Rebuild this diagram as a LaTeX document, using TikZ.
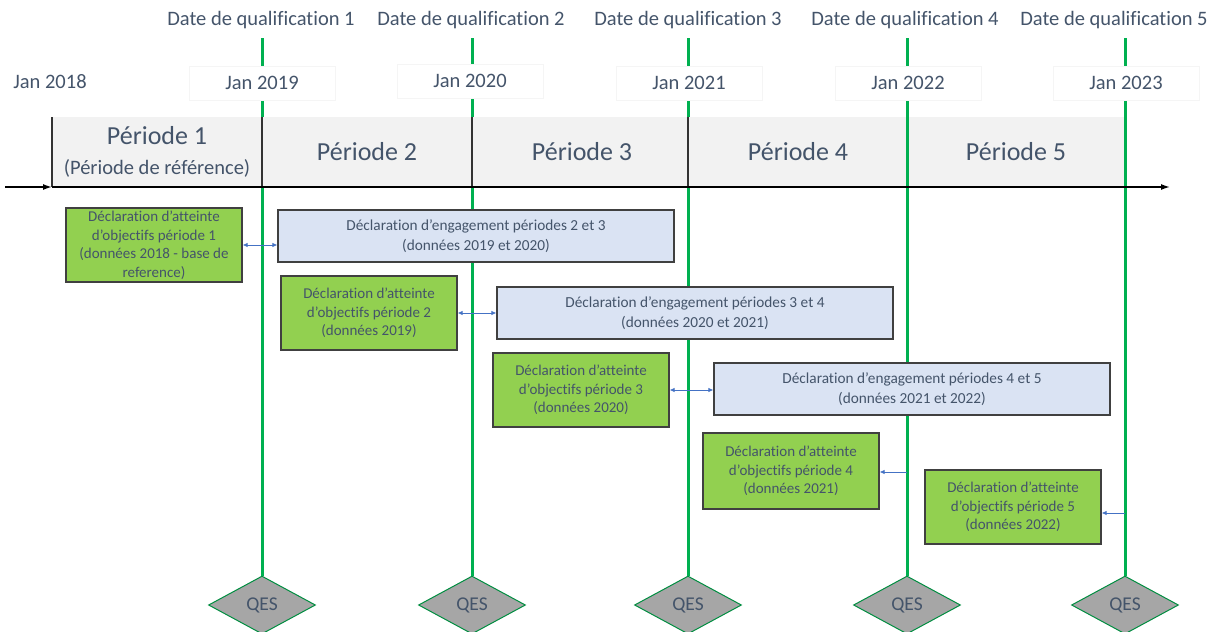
\documentclass[tikz,border=0pt]{standalone}
\usepackage{fontspec}
\setmainfont{Carlito}[Ligatures={TeX,NoCommon}]
\usepackage{xcolor}
\usepackage{tikz}
\usetikzlibrary{shapes.geometric,arrows.meta,positioning,calc}

\definecolor{txtgray}{RGB}{68,84,106}
\definecolor{qgreen}{RGB}{0,176,80}
\definecolor{boxgreen}{RGB}{146,208,80}
\definecolor{boxblue}{RGB}{218,227,243}
\definecolor{bandgray}{RGB}{242,242,242}
\definecolor{arrblue}{RGB}{68,114,196}

\begin{document}
\begin{tikzpicture}[
			x = 1pt, y = -1pt,
			every node/.style = {text = txtgray},
			qline/.style = {draw = qgreen, line width = 3pt},
			datelab/.style = {font = \fontsize{20.5}{24}\selectfont},
			janbox/.style = {fill = white, draw = black!4, minimum width = 146pt, minimum height = 34pt, font = \fontsize{20.5}{24}\selectfont},
			perlab/.style = {font = \fontsize{26}{30}\selectfont},
			goalbox/.style = {fill = boxgreen, draw = black!75, line width = 1.2pt, align = center, inner sep = 0pt,
				minimum width = 176pt, minimum height = 74pt, font = \fontsize{15}{18.5}\selectfont},
			engbox/.style = {fill = boxblue, draw = black!75, line width = 1.2pt, align = center, inner sep = 0pt,
				minimum width = 396pt, minimum height = 52pt, font = \fontsize{15.3}{20}\selectfont},
			qes/.style = {diamond, fill = black!35, draw = qgreen!80!black, line width = 1pt, inner sep = 0pt,
				minimum width = 107pt, minimum height = 58pt, font = \fontsize{19.5}{22}\selectfont},
			link/.style = {draw = arrblue, line width = 0.8pt, {Latex[length=5pt,width=4.5pt]}-{Latex[length=5pt,width=4.5pt]}},
			linkl/.style = {draw = arrblue, line width = 0.8pt, -{Latex[length=5pt,width=4.5pt]}}
			]

			\useasboundingbox (0,0) rectangle (1216,632);

			\def\bandtop{117}
			\def\bandbot{187}

			% qualification lines
			\foreach \x/\n in {262/1,472/2,688/3,907/4,1125/5}{
				\node[qes] (q\n) at (\x,605) {QES};
				\coordinate (t\n) at (\x,38);
				\draw[qline] (t\n) -- (q\n.north);
			}

			\node[datelab] (d1) at (261,20) {Date de qualification 1};
			\node[datelab] (d2) at (471,20) {Date de qualification 2};
			\node[datelab] (d3) at (688,20) {Date de qualification 3};
			\node[datelab] (d4) at (905,20) {Date de qualification 4};
			\node[datelab] (d5) at (1114,20) {Date de qualification 5};

			\node[datelab] (j0) at (50,82) {Jan 2018};
			\node[janbox] (j1) at (262,83) {Jan 2019};
			\node[janbox] (j2) at (470,81) {Jan 2020};
			\node[janbox] (j3) at (689,83) {Jan 2021};
			\node[janbox] (j4) at (908,83) {Jan 2022};
			\node[janbox] (j5) at (1126,83) {Jan 2023};

			% periods
			\fill[bandgray] (52,\bandtop) rectangle (1125,\bandbot);
			\foreach \x in {52,262,472,688}
				\draw[line width = 1.2pt, black!80] (\x,\bandtop) -- (\x,\bandbot);
			\draw[qline] (907,\bandtop) -- (907,\bandbot);
			\draw[qline] (1125,\bandtop) -- (1125,\bandbot);

			\coordinate (ax0) at (5,\bandbot);
			\coordinate (ax1) at (52,\bandbot);
			\coordinate (ax2) at (1170,\bandbot);
			\draw[line width = 1.5pt, -{Latex[length=9pt,width=6pt]}] (ax0) -- (ax1);
			\draw[line width = 1.5pt, -{Latex[length=9pt,width=6pt]}] (ax1) -- (ax2);

			\node[perlab] (p1) at (157,136) {Période 1};
			\node[datelab] (p1b) at (157,168) {(Période de référence)};
			\node[perlab] (p2) at (367,152) {Période 2};
			\node[perlab] (p3) at (582,152) {Période 3};
			\node[perlab] (p4) at (798,152) {Période 4};
			\node[perlab] (p5) at (1016,152) {Période 5};

			% declarations
			\node[goalbox] (g1) at (154,245) {Déclaration d’atteinte\\d’objectifs période 1\\(données 2018 - base de\\reference)};
			\node[engbox] (e1) at (476,236) {Déclaration d’engagement périodes 2 et 3\\(données 2019 et 2020)};
			\node[goalbox] (g2) at (369,313) {Déclaration d’atteinte\\d’objectifs période 2\\(données 2019)};
			\node[engbox] (e2) at (695,313) {Déclaration d’engagement périodes 3 et 4\\(données 2020 et 2021)};
			\node[goalbox] (g3) at (581,390) {Déclaration d’atteinte\\d’objectifs période 3\\(données 2020)};
			\node[engbox] (e3) at (912,389) {Déclaration d’engagement périodes 4 et 5\\(données 2021 et 2022)};
			\node[goalbox, minimum height = 76pt] (g4) at (791,471) {Déclaration d’atteinte\\d’objectifs période 4\\(données 2021)};
			\node[goalbox] (g5) at (1013,507) {Déclaration d’atteinte\\d’objectifs période 5\\(données 2022)};

			\draw[link] (g1.east) -- (g1.east -| e1.west);
			\draw[link] (g2.east) -- (g2.east -| e2.west);
			\draw[link] (g3.east) -- (g3.east -| e3.west);
			\coordinate (a4) at (907,472);
			\coordinate (a5) at (1125,513);
			\draw[linkl] (a4) -- (a4 -| g4.east);
			\draw[linkl] (a5) -- (a5 -| g5.east);

		\end{tikzpicture}
\end{document}
